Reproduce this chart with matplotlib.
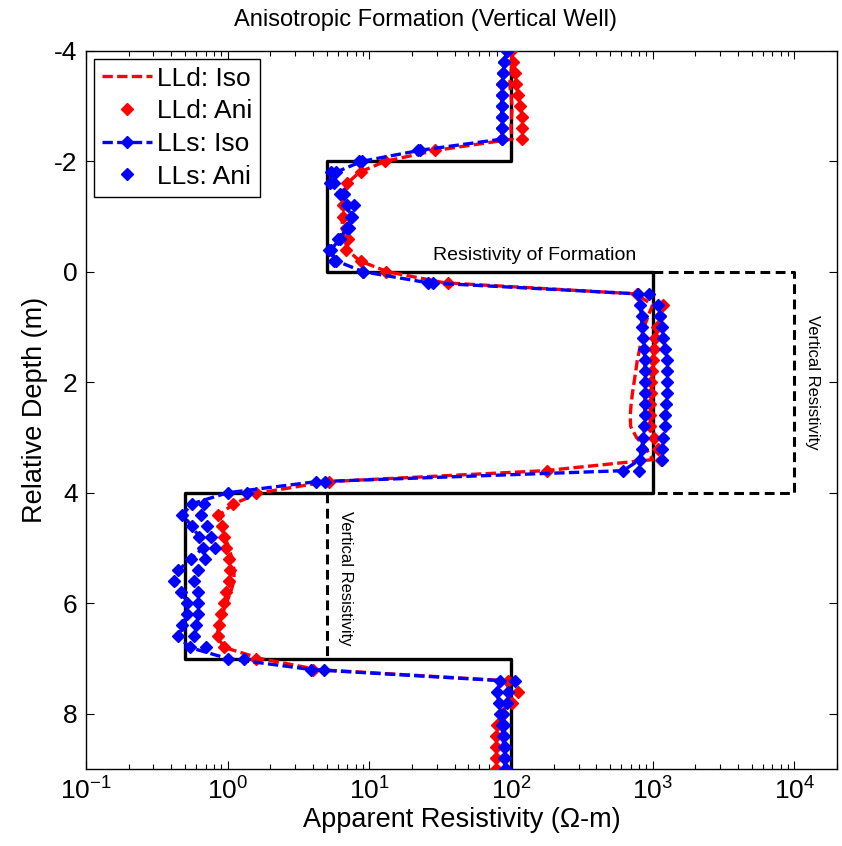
import numpy as np
import matplotlib
matplotlib.use("Agg")
import matplotlib.pyplot as plt

plt.rcParams['font.family'] = ['Liberation Sans', 'DejaVu Sans']
plt.rcParams['axes.unicode_minus'] = False
plt.rcParams['mathtext.fontset'] = 'custom'
plt.rcParams['mathtext.rm'] = 'Liberation Sans'

# depth samples (m), every 0.2 m
depth = np.linspace(-4, 9, 66)

# deep laterolog, isotropic model
lld_iso = [100, 102, 100, 98, 100, 102, 101, 100, 102,
           30, 13, 8.5, 7.0, 6.5, 6.4, 6.4, 6.5, 6.7, 7.0, 8.5, 13.5,
           34, 760, 1000, 930, 870, 830, 810, 780, 760, 740, 720, 705, 695, 700, 770, 900, 1000, 175, 5.0,
           1.7, 1.1, 0.88, 0.9, 0.96, 1.02, 1.08, 1.11, 1.11, 1.05, 0.98, 0.92, 0.87, 0.84, 0.95, 1.7,
           4.3, 90, 100, 96, 85, 80, 79, 79, 79, 79]
# deep laterolog, anisotropic model
lld_ani = [100, 103, 106, 109, 113, 116, 119, 120, 119,
           29, 13, 8.7, 7.0, 6.5, 6.5, 6.5, 6.8, 7.1, 6.8, 8.7, 13.2,
           36, 780, 1180, 1120, 1080, 1040, 1020, 1000, 990, 980, 970, 960, 955, 965, 1030, 1090, 1150, 180, 5.2,
           1.6, 1.1, 0.85, 0.92, 0.95, 0.97, 1.03, 1.04, 1.02, 0.98, 0.95, 0.9, 0.87, 0.85, 0.95, 1.6,
           4.0, 95, 112, 102, 88, 80, 78, 78, 78, 78]
# shallow laterolog, isotropic model
lls_iso = [94, 90, 88, 87, 86, 86, 86, 86, 86,
           23, 8.9, 5.8, 5.6, 6.2, 7.0, 7.4, 7.0, 6.2, 5.4, 5.8, 9.1,
           26, 790, 815, 836, 840, 860, 870, 883, 883, 883, 883, 883, 880, 870, 860, 836, 814, 620, 4.2,
           1.0, 0.56, 0.48, 0.56, 0.63, 0.67, 0.55, 0.45, 0.42, 0.47, 0.52, 0.52, 0.48, 0.45, 0.54, 1.0,
           3.9, 84, 80, 82, 84, 86, 88, 89, 90, 91]
# shallow laterolog, anisotropic model
lls_ani = [94, 90, 88, 87, 87, 87, 87, 87, 87,
           22, 8.5, 5.4, 5.3, 6.6, 7.8, 7.6, 7.2, 6.0, 5.2, 5.6, 9.0,
           28, 940, 1100, 1130, 1160, 1190, 1220, 1256, 1256, 1256, 1256, 1240, 1221, 1221, 1190, 1157, 1170, 800, 4.9,
           1.38, 0.68, 0.65, 0.72, 0.77, 0.81, 0.69, 0.62, 0.58, 0.62, 0.62, 0.62, 0.60, 0.58, 0.70, 1.3,
           4.8, 107, 96, 94, 88, 89, 90, 91, 91, 92]

# formation model (horizontal resistivity) as a step profile
layer_top = [-4, -2, 0, 4, 7]
layer_bot = [-2, 0, 4, 7, 9]
layer_rh = [100, 5, 1000, 0.5, 100]
# vertical resistivity of the two anisotropic beds
layer_rv = {2: 1e4, 3: 5}

fig = plt.figure(figsize=(8.42, 8.46), dpi=100)
ax = fig.add_axes([0.102, 0.091, 0.892, 0.849])

prof_x, prof_y = [], []
for t, b, r in zip(layer_top, layer_bot, layer_rh):
    prof_x += [r, r]
    prof_y += [t, b]
ax.plot(prof_x, prof_y, color='k', lw=2.4, zorder=1)

# vertical resistivity, dashed
i = 2
ax.plot([layer_rh[i], layer_rv[i], layer_rv[i], layer_rh[i]],
        [layer_top[i], layer_top[i], layer_bot[i], layer_bot[i]],
        color='k', lw=2.2, ls=(0, (3.2, 1.8)), zorder=1)
i = 3
ax.plot([layer_rv[i], layer_rv[i]], [layer_top[i], layer_bot[i]],
        color='k', lw=2.2, ls=(0, (3.2, 1.8)), zorder=1)

dash = (0, (3.1, 1.3))
ms = 6.3
ax.plot(lld_iso, depth, color='red', lw=2.4, ls=dash, label='LLd: Iso', zorder=2)
ax.plot(lld_ani, depth, color='red', ls='none', marker='D', ms=ms, label='LLd: Ani', zorder=3)
ax.plot(lls_iso, depth, color='blue', lw=2.4, ls=dash, marker='D', ms=ms, label='LLs: Iso', zorder=4)
ax.plot(lls_ani, depth, color='blue', ls='none', marker='D', ms=ms, label='LLs: Ani', zorder=5)

ax.text(148, -0.3, 'Resistivity of Formation', fontsize=14, ha='center', va='center')
ax.text(13500, 2.0, 'Vertical Resistivity', fontsize=12, rotation=-90, ha='center', va='center')
ax.text(6.8, 5.55, 'Vertical Resistivity', fontsize=12, rotation=-90, ha='center', va='center')

ax.set_xscale('log')
ax.set_xlim(0.1, 2e4)
ax.set_ylim(9, -4)
ax.set_yticks([-4, -2, 0, 2, 4, 6, 8])
ax.set_xticks([0.1, 1, 10, 100, 1000, 10000])

ax.tick_params(which='both', direction='in', top=True, right=True, labelsize=19, width=0.8)
ax.tick_params(which='major', length=6, pad=6)
ax.tick_params(which='minor', length=3.5)
for s in ax.spines.values():
    s.set_linewidth(1.0)

fig.text(425 / 842, 1 - 20 / 846, 'Anisotropic Formation (Vertical Well)',
         fontsize=17, ha='center', va='center')
ax.set_xlabel('Apparent Resistivity (\u03a9-m)', fontsize=19.5, labelpad=2)
ax.set_ylabel('Relative Depth (m)', fontsize=19.5, labelpad=4)

leg = ax.legend(loc='upper left', fontsize=19, handlelength=1.9, handletextpad=0.2,
                labelspacing=0.33, borderpad=0.3, borderaxespad=0.3,
                fancybox=False, framealpha=1, edgecolor='k')
leg.get_frame().set_linewidth(1.0)

fig.savefig('out.png', dpi=100)
